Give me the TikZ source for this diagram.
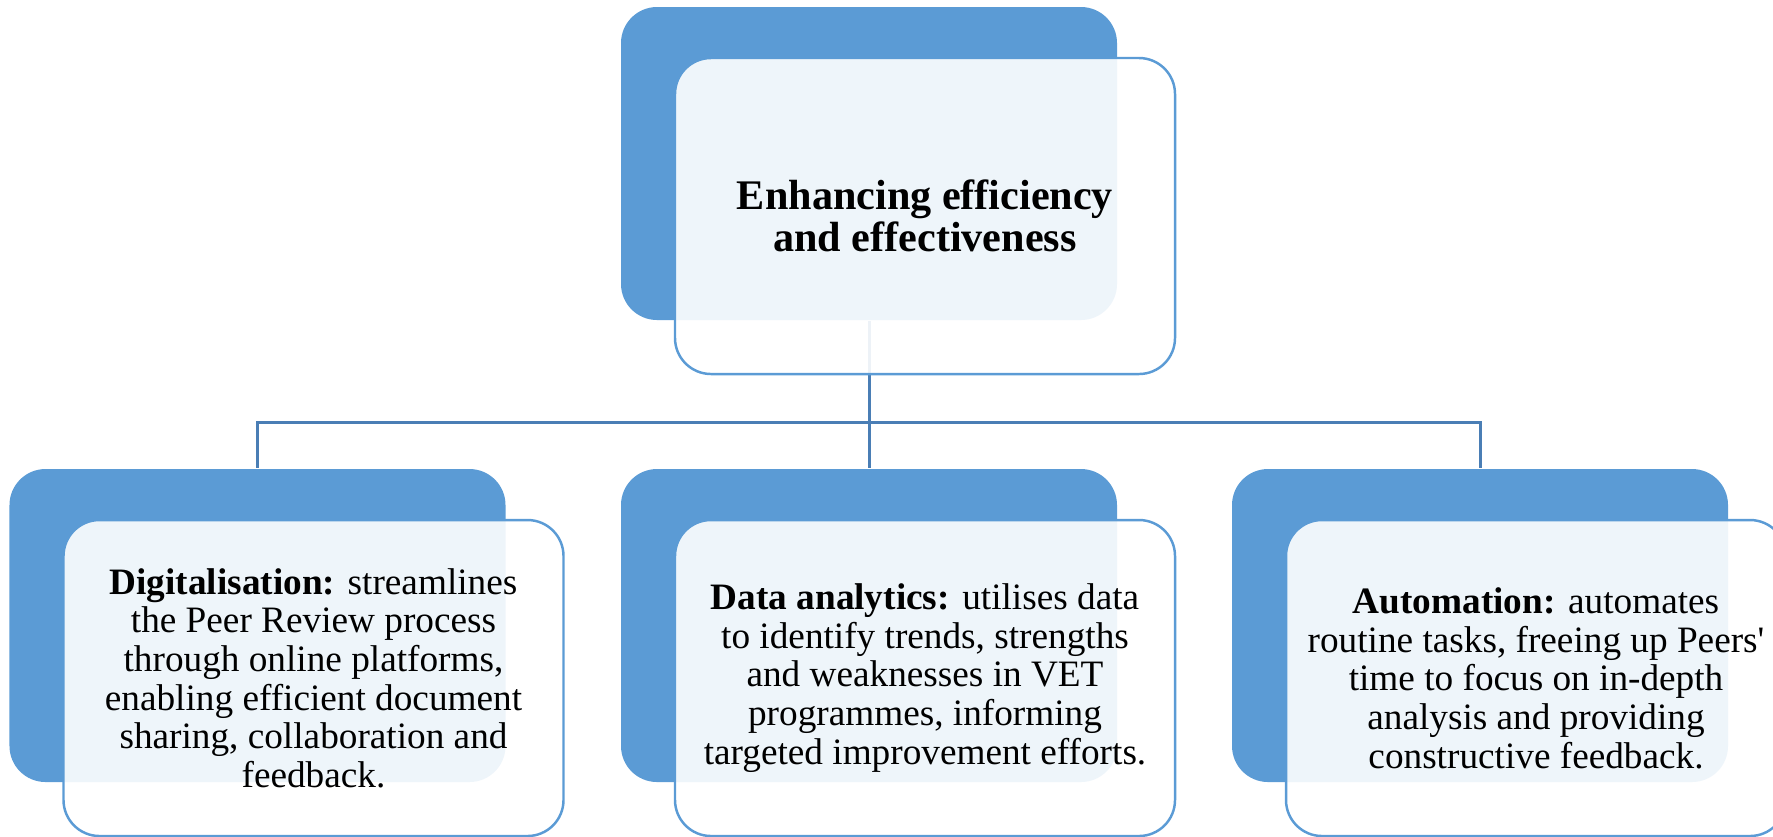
\documentclass[tikz,border=0pt]{standalone}
\usepackage{fontspec}
\setmainfont{LiberationSerif}[Extension=.ttf,UprightFont=*-Regular,BoldFont=*-Bold,ItalicFont=*-Italic,BoldItalicFont=*-BoldItalic]
\usetikzlibrary{positioning,backgrounds}

\definecolor{tileblue}{HTML}{5B9BD5}
\definecolor{linkblue}{HTML}{4A7EB5}

\begin{document}
\begin{tikzpicture}[every node/.style={inner sep=0pt},
    tile/.style={rectangle,rounded corners=0.36cm,fill=tileblue,minimum width=4.96cm,minimum height=3.13cm},
    card/.style={rectangle,rounded corners=0.36cm,draw=tileblue,line width=0.7pt,fill=white,fill opacity=0.9,text opacity=1,
      minimum width=5.0cm,minimum height=3.16cm,align=center,font=\fontsize{10.6pt}{11pt}\selectfont},
    link/.style={draw=linkblue,line width=0.85pt}]
  \useasboundingbox (0,0) rectangle (17.73,-8.36);
  % blue tiles
  \node[tile] (top)   at (8.69, -1.635) {};
  \node[tile] (left)  at (2.575,-6.255) {};
  \node[tile] (mid)   at (8.69, -6.255) {};
  \node[tile] (right) at (14.80,-6.255) {};
  % text cards
  \node[card,font=\fontsize{12pt}{12pt}\selectfont\bfseries] (topcard) at (9.25,-2.16) {Enhancing efficiency\\and effectiveness};
  \node[card] (leftcard)  at (3.135,-6.78) {\textbf{Digitalisation:} streamlines\\the Peer Review process\\through online platforms,\\enabling efficient document\\sharing, collaboration and\\feedback.};
  \node[card] (midcard)   at (9.25, -6.78) {\textbf{Data analytics:} utilises data\\to identify trends, strengths\\and weaknesses in VET\\programmes, informing\\targeted improvement efforts.};
  \node[card] (rightcard) at (15.36,-6.78) {\textbf{Automation:} automates\\routine tasks, freeing up Peers\textquotesingle\\time to focus on in-depth\\analysis and providing\\constructive feedback.};
  % tree lines
  \begin{scope}[on background layer]
    \draw[link] (top.south) -- (mid.north);
    \draw[link] (top.south) ++(0,-1.02) -| (left.north);
    \draw[link] (top.south) ++(0,-1.02) -| (right.north);
  \end{scope}
\end{tikzpicture}
\end{document}
